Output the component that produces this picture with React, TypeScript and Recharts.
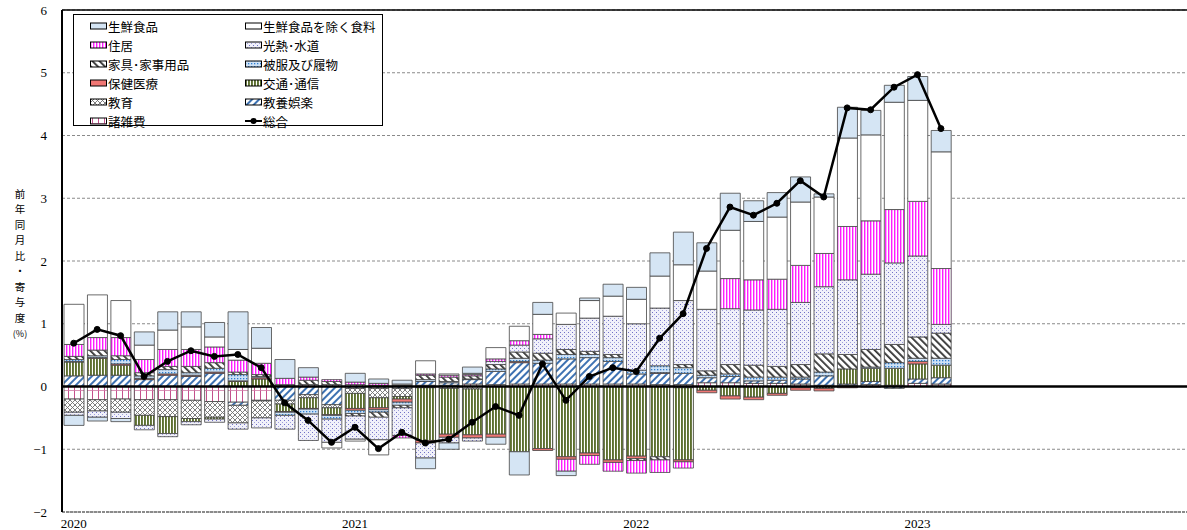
import React from 'react';
import { ComposedChart, Bar, Line, XAxis, YAxis, CartesianGrid, ReferenceLine, Legend } from 'recharts';

// categories: monthly, Jan 2020 .. Dec 2023
const YEARS = ['2020', '2021', '2022', '2023'];
const MONTH_NUMS = ['01', '02', '03', '04', '05', '06', '07', '08', '09', '10', '11', '12'];
const MONTHS: string[] = YEARS.flatMap((y) => MONTH_NUMS.map((m) => `${y}-${m}`));
const Y_TICKS = [-2, -1, 0, 1, 2, 3, 4, 5, 6];

// contributions (percentage points), Jan 2020 .. Feb 2023
const sf = [-0.16, -0.06, -0.05, 0.21, 0.29, 0.24, 0.23, 0.60, 0.33, 0.30, 0.15, 0.00, 0.14, 0.07, 0.06, -0.17, -0.10, 0.10, -0.11, -0.37, 0.19, -0.07, 0.04, 0.19, 0.19, 0.37, 0.52, 0.45, 0.59, 0.33, 0.39, 0.40, 0.05, 0.49, 0.39, 0.27, 0.38, 0.34];
const fd = [0.64, 0.68, 0.59, 0.23, 0.31, 0.36, 0.16, 0.17, 0.24, 0.00, 0.00, -0.09, -0.03, -0.24, 0.02, 0.21, 0.02, 0.02, 0.18, 0.23, 0.32, 0.18, 0.28, 0.32, 0.39, 0.51, 0.57, 0.61, 0.77, 0.93, 0.99, 1.01, 0.90, 1.41, 1.37, 1.71, 1.61, 1.86];
const ho = [0.19, 0.20, 0.29, 0.21, 0.27, 0.27, 0.25, 0.19, 0.18, 0.10, 0.05, 0.03, 0.04, 0.03, -0.04, 0.02, 0.03, 0.02, 0.04, 0.07, 0.07, -0.19, -0.14, -0.14, -0.20, -0.20, -0.10, 0.00, 0.48, 0.48, 0.48, 0.59, 0.53, 0.85, 0.85, 0.85, 0.87, 0.89];
const en = [-0.05, -0.10, -0.10, -0.07, -0.05, -0.05, -0.05, -0.10, -0.16, -0.22, -0.42, -0.37, -0.37, -0.36, -0.44, -0.24, -0.09, -0.05, 0.05, 0.11, 0.23, 0.40, 0.53, 0.61, 0.74, 0.92, 1.02, 0.98, 0.89, 0.88, 0.91, 0.99, 1.07, 1.19, 1.20, 1.30, 1.29, 0.14];
const fu = [0.05, 0.09, 0.06, 0.05, 0.05, 0.10, 0.09, 0.04, 0.03, 0.02, 0.07, 0.05, -0.04, -0.08, -0.04, 0.07, 0.07, 0.05, 0.07, 0.10, 0.11, 0.08, 0.05, 0.05, -0.03, -0.05, 0.05, 0.07, 0.15, 0.19, 0.17, 0.20, 0.29, 0.23, 0.28, 0.29, 0.34, 0.40];
const cl = [0.03, 0.03, 0.07, 0.04, 0.07, 0.04, 0.06, 0.10, 0.02, -0.05, -0.08, -0.06, -0.05, -0.04, -0.05, 0.03, 0.02, 0.01, 0.04, 0.05, 0.05, 0.07, 0.05, 0.06, 0.06, 0.11, 0.09, 0.04, 0.04, 0.06, 0.05, 0.03, 0.06, 0.00, 0.02, 0.09, 0.05, 0.11];
const me = [0.01, 0.01, 0.02, 0.02, 0.02, 0.02, 0.02, 0.01, 0.02, -0.01, -0.01, -0.01, -0.03, -0.03, -0.05, -0.04, -0.05, -0.05, -0.05, 0.02, -0.03, -0.04, -0.04, -0.04, -0.04, 0.01, -0.03, -0.04, -0.05, -0.04, -0.03, -0.04, -0.04, -0.02, -0.01, 0.00, 0.04, 0.00];
const tr = [0.22, 0.27, 0.16, -0.16, -0.27, -0.05, -0.03, 0.08, 0.12, -0.12, -0.17, -0.11, -0.24, -0.16, -0.04, -0.84, -0.73, -0.73, -0.76, -1.04, -0.99, -1.12, -1.06, -1.17, -1.11, -1.12, -1.15, -0.06, -0.15, -0.17, -0.11, -0.02, -0.03, 0.24, 0.21, 0.27, 0.24, 0.20];
const ed = [-0.21, -0.18, -0.21, -0.25, -0.27, -0.29, -0.25, -0.28, -0.27, -0.06, -0.05, -0.05, -0.08, -0.15, -0.13, -0.02, -0.03, -0.04, 0.00, 0.00, 0.00, 0.00, 0.00, 0.00, 0.00, 0.00, -0.02, 0.00, 0.00, 0.00, 0.00, 0.00, 0.00, 0.00, 0.00, 0.00, 0.00, 0.00];
const cu = [0.17, 0.18, 0.18, 0.11, 0.18, 0.16, 0.21, -0.05, -0.01, -0.22, -0.13, -0.29, -0.03, -0.03, -0.03, 0.06, 0.04, 0.07, 0.21, 0.34, 0.33, 0.40, 0.42, 0.36, 0.16, 0.18, 0.18, 0.08, 0.10, 0.04, 0.05, 0.08, 0.15, 0.02, 0.05, -0.03, 0.07, 0.10];
const mi = [-0.20, -0.21, -0.20, -0.21, -0.21, -0.22, -0.24, -0.25, -0.22, 0.01, 0.03, 0.03, 0.03, 0.02, 0.02, 0.02, 0.02, 0.04, 0.03, 0.04, 0.04, 0.04, 0.04, 0.04, 0.04, 0.03, 0.03, 0.06, 0.06, 0.05, 0.05, 0.04, 0.02, 0.02, 0.03, 0.02, 0.05, 0.04];
const total = [0.69, 0.91, 0.81, 0.16, 0.40, 0.57, 0.48, 0.51, 0.30, -0.26, -0.54, -0.89, -0.65, -0.99, -0.73, -0.90, -0.84, -0.57, -0.32, -0.46, 0.36, -0.22, 0.16, 0.30, 0.24, 0.77, 1.16, 2.20, 2.86, 2.73, 2.92, 3.28, 3.02, 4.44, 4.41, 4.77, 4.97, 4.11];

const data = MONTHS.map((m, i) => ({
  m,
  sf: sf[i], fd: fd[i], ho: ho[i], en: en[i], fu: fu[i], cl: cl[i],
  me: me[i], tr: tr[i], ed: ed[i], cu: cu[i], mi: mi[i], total: total[i],
}));

// stacking order (bottom first)
const STACK = [
  { key: 'mi', name: '諸雑費', fill: 'url(#pMi)' },
  { key: 'cu', name: '教養娯楽', fill: 'url(#pCu)' },
  { key: 'ed', name: '教育', fill: 'url(#pEd)' },
  { key: 'tr', name: '交通･通信', fill: 'url(#pTr)' },
  { key: 'me', name: '保健医療', fill: '#f07774' },
  { key: 'cl', name: '被服及び履物', fill: 'url(#pCl)' },
  { key: 'fu', name: '家具･家事用品', fill: 'url(#pFu)' },
  { key: 'en', name: '光熱･水道', fill: 'url(#pEn)' },
  { key: 'ho', name: '住居', fill: 'url(#pHo)' },
  { key: 'fd', name: '生鮮食品を除く食料', fill: '#ffffff' },
  { key: 'sf', name: '生鮮食品', fill: '#d5e5f4' },
];

const LEGEND_ORDER = ['sf', 'fd', 'ho', 'en', 'fu', 'cl', 'me', 'tr', 'ed', 'cu', 'mi', 'total'];

const Patterns = () => (
  <svg width="0" height="0" style={{ position: 'absolute' }}>
    <defs>
      <pattern id="pHo" width="3" height="4" patternUnits="userSpaceOnUse">
        <rect width="3" height="4" fill="#ffffff" />
        <rect x="0" y="0" width="1.4" height="4" fill="#ff1cff" />
      </pattern>
      <pattern id="pEn" width="4" height="4" patternUnits="userSpaceOnUse">
        <rect width="4" height="4" fill="#f1f1fa" />
        <rect x="0" y="0" width="1" height="1" fill="#7070c6" />
        <rect x="2" y="2" width="1" height="1" fill="#a0a0da" />
      </pattern>
      <pattern id="pFu" width="5" height="5" patternUnits="userSpaceOnUse" patternTransform="rotate(-45)">
        <rect width="5" height="5" fill="#ffffff" />
        <rect x="0" y="0" width="1.8" height="5" fill="#333333" />
      </pattern>
      <pattern id="pCl" width="3" height="3" patternUnits="userSpaceOnUse">
        <rect width="3" height="3" fill="#cfe2f6" />
        <rect x="0" y="0" width="1.3" height="1.3" fill="#2f7fd2" />
      </pattern>
      <pattern id="pTr" width="3" height="4" patternUnits="userSpaceOnUse">
        <rect width="3" height="4" fill="#ffffff" />
        <rect x="0" y="0" width="1.9" height="4" fill="#5c6f2f" />
      </pattern>
      <pattern id="pEd" width="5" height="5" patternUnits="userSpaceOnUse">
        <rect width="5" height="5" fill="#ffffff" />
        <path d="M0,0 L5,5 M5,0 L0,5" stroke="#707070" strokeWidth="0.9" />
      </pattern>
      <pattern id="pCu" width="5" height="5" patternUnits="userSpaceOnUse" patternTransform="rotate(45)">
        <rect width="5" height="5" fill="#ffffff" />
        <rect x="0" y="0" width="2" height="5" fill="#3e72b2" />
      </pattern>
      <pattern id="pMi" width="6" height="12" patternUnits="userSpaceOnUse">
        <rect width="6" height="12" fill="#ffffff" />
        <rect x="2" y="0" width="1" height="12" fill="#c4508c" />
        <rect x="0" y="6" width="6" height="0.8" fill="#d07aa6" />
      </pattern>
    </defs>
  </svg>
);

const fillOf = (key: string) => STACK.find((s) => s.key === key)?.fill || '#fff';
const nameOf = (key: string) => (key === 'total' ? '総合' : STACK.find((s) => s.key === key)?.name || key);

const LegendBox = () => (
  <div
    style={{
      position: 'relative', width: 310, height: 112, border: '1px solid #000', background: '#fff',
      boxSizing: 'border-box', fontFamily: '"Noto Sans CJK JP", sans-serif', fontSize: 12.5, color: '#000',
    }}
  >
    {LEGEND_ORDER.map((k, i) => {
      const col = i % 2;
      const row = Math.floor(i / 2);
      const left = col === 0 ? 16 : 171;
      const top = 2 + row * 19;
      return (
        <div key={k} style={{ position: 'absolute', left, top, height: 18, display: 'flex', alignItems: 'center', whiteSpace: 'nowrap' }}>
          <svg width="17" height="8" style={{ marginRight: 1 }}>
            {k === 'total' ? (
              <g>
                <line x1="0" y1="4" x2="17" y2="4" stroke="#000" strokeWidth="2" />
                <circle cx="8.5" cy="4" r="3" fill="#000" />
              </g>
            ) : (
              <rect x="0.5" y="1" width="16" height="6" fill={fillOf(k)} stroke="#000" strokeWidth="1" />
            )}
          </svg>
          <span>{nameOf(k)}</span>
        </div>
      );
    })}
  </div>
);

const Y_LABEL_CHARS = ['前', '年', '同', '月', '比', '・', '寄', '与', '度'];

const YLabel = () => (
  <g fontFamily='"Noto Sans CJK JP", sans-serif' fill="#000">
    {Y_LABEL_CHARS.map((c, i) => (
      <text key={i} x={20} y={193 + i * 15.5} fontSize={10.5} textAnchor="middle" dominantBaseline="central">
        {c}
      </text>
    ))}
    <text x={20} y={333} fontSize={9} textAnchor="middle" dominantBaseline="central">(%)</text>
  </g>
);

const fmtY = (v: number) => (v < 0 ? `−${Math.abs(v)}` : `${v}`);
const fmtX = (v: string) => (v.endsWith('-01') ? v.slice(0, 4) : '');

export default function App() {
  return (
    <div style={{ position: 'absolute', left: 0, top: 0, width: 1187, height: 530, background: '#fff' }}>
      <Patterns />
      <ComposedChart
        width={1187}
        height={530}
        data={data}
        stackOffset="sign"
        barCategoryGap={0}
        margin={{ top: 10, right: 0, bottom: 0, left: 0 }}
      >
        <CartesianGrid vertical={false} stroke="#8a8a8a" strokeDasharray="3 2" />
        <XAxis
          dataKey="m"
          interval={0}
          tickFormatter={fmtX}
          tickLine={false}
          tickSize={6}
          tickMargin={1}
          height={18}
          axisLine={{ stroke: '#8a8a8a', strokeWidth: 2, strokeDasharray: '3 1' }}
          tick={{ fill: '#000', fontSize: 13, fontFamily: '"Liberation Serif", serif' }}
        />
        <YAxis
          width={62}
          domain={[-2, 6]}
          ticks={Y_TICKS}
          interval={0}
          tickFormatter={fmtY}
          tickLine={false}
          tickSize={6}
          tickMargin={9}
          axisLine={{ stroke: '#000', strokeWidth: 2 }}
          tick={{ fill: '#000', fontSize: 13, fontFamily: '"Liberation Serif", serif' }}
          label={<YLabel />}
        />
        <Legend
          layout="vertical"
          align="center"
          verticalAlign="middle"
          content={<LegendBox />}
          wrapperStyle={{ left: 73, top: 14, width: 310, height: 112 }}
        />
        {STACK.map((s) => (
          <Bar
            key={s.key}
            dataKey={s.key}
            name={s.name}
            stackId="a"
            fill={s.fill}
            stroke="#454545"
            strokeWidth={0.8}
            barSize={20}
            isAnimationActive={false}
          />
        ))}
        <ReferenceLine y={0} stroke="#000" strokeWidth={2.5} />
        <ReferenceLine y={6} stroke="#000" strokeWidth={1.5} />
        <Line
          dataKey="total"
          name="総合"
          stroke="#000"
          strokeWidth={2.5}
          dot={{ r: 3, fill: '#000', stroke: '#000', strokeWidth: 1 }}
          isAnimationActive={false}
        />
      </ComposedChart>
    </div>
  );
}
